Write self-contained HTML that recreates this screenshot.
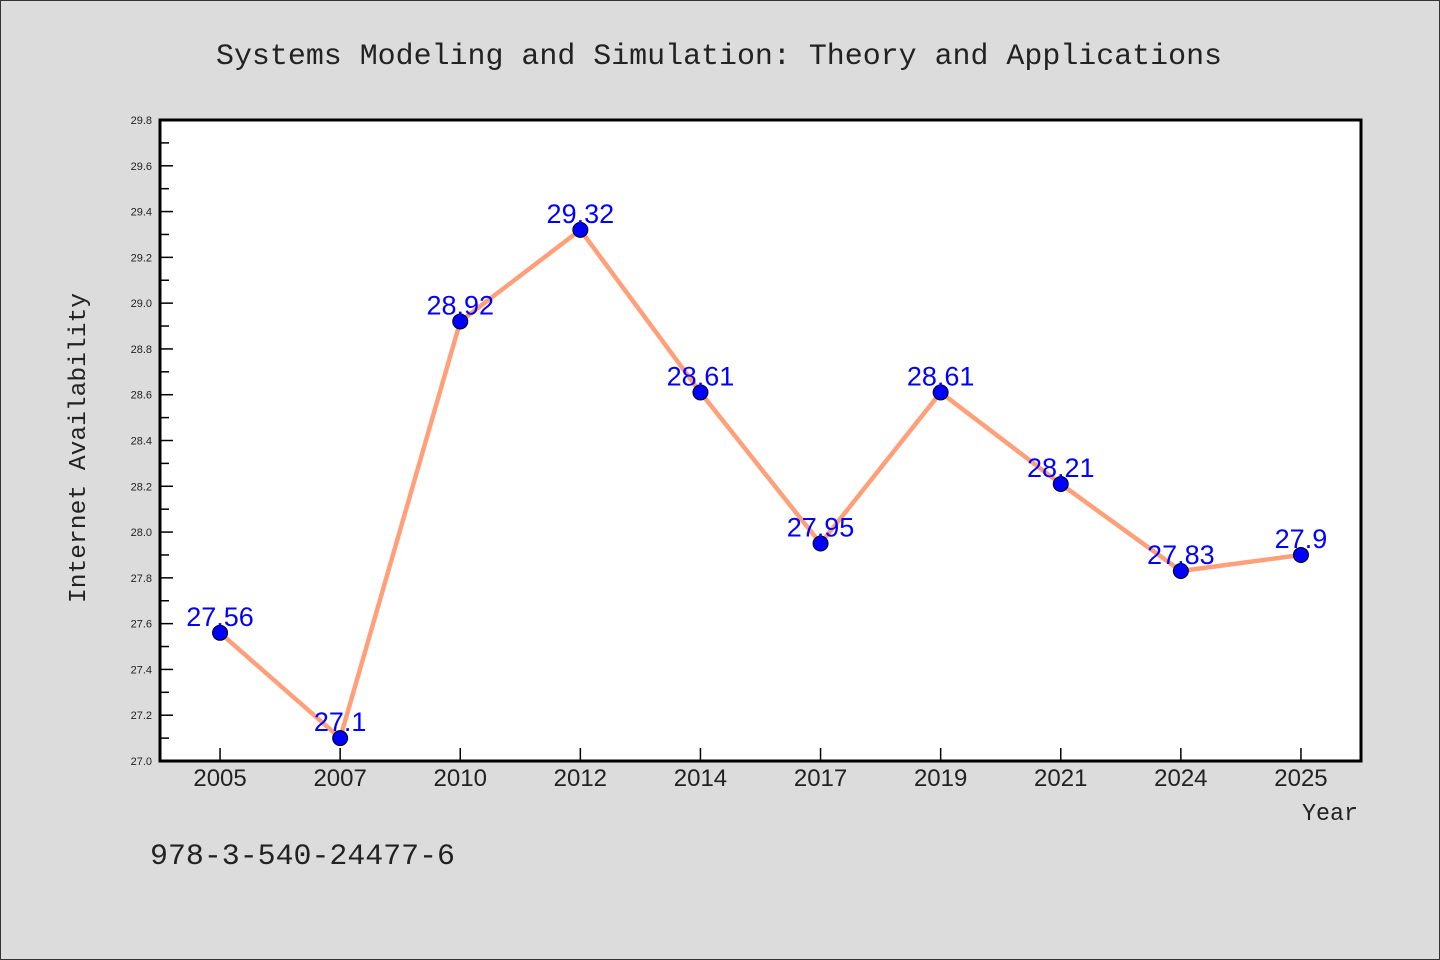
<!DOCTYPE html>
<html><head><meta charset="utf-8"><style>
html,body{margin:0;padding:0;background:#dcdcdc;}
svg{display:block;}
text{font-family:"Liberation Sans","DejaVu Sans",sans-serif;}
.mono{font-family:"Liberation Mono","DejaVu Sans Mono",monospace;fill:#222;}
</style></head><body>
<svg id="chart" width="1440" height="960" xmlns="http://www.w3.org/2000/svg">
<rect x="0.5" y="0.5" width="1439" height="959" fill="#dcdcdc" stroke="#333" stroke-width="1"/>
<rect x="160" y="120" width="1201" height="641" fill="#fff" stroke="#000" stroke-width="3"/>
<text class="mono" x="216" y="64" font-size="30" textLength="1006" lengthAdjust="spacingAndGlyphs">Systems Modeling and Simulation: Theory and Applications</text>
<text class="mono" transform="translate(85,603) rotate(-90)" font-size="24" textLength="310" lengthAdjust="spacingAndGlyphs">Internet Availability</text>
<text class="mono" x="1302" y="820" font-size="24" textLength="56" lengthAdjust="spacingAndGlyphs">Year</text>
<text class="mono" x="150" y="864" font-size="30" textLength="305" lengthAdjust="spacingAndGlyphs">978-3-540-24477-6</text>
<g id="axes"></g>
<g id="series"></g>
</svg>
<script>
const categories=["2005","2007","2010","2012","2014","2017","2019","2021","2024","2025"];
const values=[27.56,27.1,28.92,29.32,28.61,27.95,28.61,28.21,27.83,27.9];
const yTicks=[27.0,27.2,27.4,27.6,27.8,28.0,28.2,28.4,28.6,28.8,29.0,29.2,29.4,29.6,29.8];
const yMin=27.0,yMax=29.8;
const L=160,R=1361,T=120,B=761;
const ns="http://www.w3.org/2000/svg";
function y(v){return B-(v-yMin)/(yMax-yMin)*(B-T);}
function x(i){const step=(R-L)/categories.length;return L+step*(i+0.5);}
function mk(tag,attrs,parent){const e=document.createElementNS(ns,tag);for(const k in attrs)e.setAttribute(k,attrs[k]);parent.appendChild(e);return e;}
const ax=document.getElementById('axes');
yTicks.forEach((t,i)=>{
  const l=mk('line',{x1:L,x2:L+13,y1:y(t),y2:y(t),stroke:'#000','stroke-width':1.5},ax);
  
  
  const tx=mk('text',{x:152,y:y(t)+4,'font-size':11,'text-anchor':'end',fill:'#222'},ax);
  tx.textContent=t.toFixed(1);
  
  
  if(i<yTicks.length-1){
    const m=mk('line',{x1:L,x2:L+9,y1:y(t+0.1),y2:y(t+0.1),stroke:'#000','stroke-width':1.5},ax);
    
    
  }
});
categories.forEach((c,i)=>{
  const l=mk('line',{x1:x(i),x2:x(i),y1:B,y2:B-13,stroke:'#000','stroke-width':1.5},ax);
  
  
  const tx=mk('text',{x:x(i),y:786,'font-size':24,'text-anchor':'middle',fill:'#222'},ax);
  tx.textContent=c;
  
  
});
const sg=document.getElementById('series');
const pl=mk('polyline',{points:values.map((v,i)=>x(i)+','+y(v)).join(' '),fill:'none',stroke:'#ffa07a','stroke-width':4.5,'stroke-linejoin':'round'},sg);


values.forEach((v,i)=>{
  const c=mk('circle',{cx:x(i),cy:y(v),r:7.5,fill:'#0000ff',stroke:'#000','stroke-width':1},sg);
  
  
  const t=mk('text',{x:x(i),y:y(v)-7,'font-size':27,'text-anchor':'middle',fill:'#0000ff'},sg);
  t.textContent=String(v);
  
  
});
</script>
</body></html>
